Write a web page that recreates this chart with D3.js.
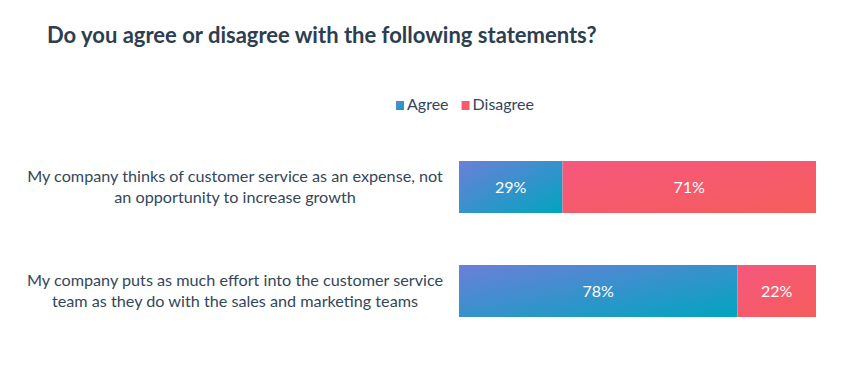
<!DOCTYPE html>
<meta charset="utf-8">
<style>
body { margin: 0; background: #fff; }
text { font-family: Lato, "Open Sans", sans-serif; }
.title { font-weight: bold; fill: #2d3e50; font-size: 22px; }
.legend text { fill: #33475b; font-size: 16px; }
.labels text { fill: #33475b; font-size: 16.2px; }
.bars text { fill: #fff; font-size: 16px; }
</style>
<svg width="853" height="375"></svg>
<script src="https://d3js.org/d3.v7.min.js"></script>
<script>

var statements = [
  ["My company thinks of customer service as an expense, not", "an opportunity to increase growth"],
  ["My company puts as much effort into the customer service", "team as they do with the sales and marketing teams"]
];
var series = ["Agree", "Disagree"];
var agree = [29, 78];
var disagree = [71, 22];

var svg = d3.select("svg");

var defs = svg.append("defs");
function grad(id, c1, c2) {
  var g = defs.append("linearGradient").attr("id", id)
      .attr("x1", "0%").attr("y1", "0%").attr("x2", "100%").attr("y2", "100%");
  g.append("stop").attr("offset", "0%").attr("stop-color", c1);
  g.append("stop").attr("offset", "100%").attr("stop-color", c2);
}
grad("gAgree", "#6c7fd8", "#00a5bf");
grad("gDisagree", "#f5587e", "#f55d5b");
var fills = ["url(#gAgree)", "url(#gDisagree)"];

svg.append("text").attr("class", "title")
    .attr("x", 47).attr("y", 43)
    .text("Do you agree or disagree with the following statements?");

// legend
var legend = svg.append("g").attr("class", "legend").attr("transform", "translate(396,0)");
var lx = 0;
series.forEach(function(s, i) {
  legend.append("rect").attr("x", lx).attr("y", 101).attr("width", 8).attr("height", 9)
      .attr("fill", fills[i]);
  var t = legend.append("text").attr("x", lx + 11).attr("y", 110).text(s);
  lx += 11 + t.node().getComputedTextLength() + 13;
});

var x = d3.scaleLinear().domain([0, 100]).range([459, 816]);
var y = d3.scaleBand().domain(d3.range(statements.length)).range([109, 369]).padding(0.5);

var rows = statements.map(function(s, i) {
  return { label: s, parts: [[0, agree[i]], [agree[i], agree[i] + disagree[i]]] };
});

var bars = svg.append("g").attr("class", "bars");
rows.forEach(function(r, i) {
  r.parts.forEach(function(p, j) {
    bars.append("rect")
        .attr("x", x(p[0])).attr("y", y(i))
        .attr("width", x(p[1]) - x(p[0])).attr("height", y.bandwidth())
        .attr("fill", fills[j]);
    bars.append("text")
        .attr("x", (x(p[0]) + x(p[1])) / 2).attr("y", y(i) + y.bandwidth() / 2)
        .attr("text-anchor", "middle").attr("dy", "0.35em")
        .text((p[1] - p[0]) + "%");
  });
});

var labels = svg.append("g").attr("class", "labels");
rows.forEach(function(r, i) {
  var cy = y(i) + y.bandwidth() / 2;
  r.label.forEach(function(line, k) {
    labels.append("text").attr("text-anchor", "middle")
        .attr("x", 235).attr("y", cy - 5 + k * 21)
        .text(line);
  });
});

</script>
